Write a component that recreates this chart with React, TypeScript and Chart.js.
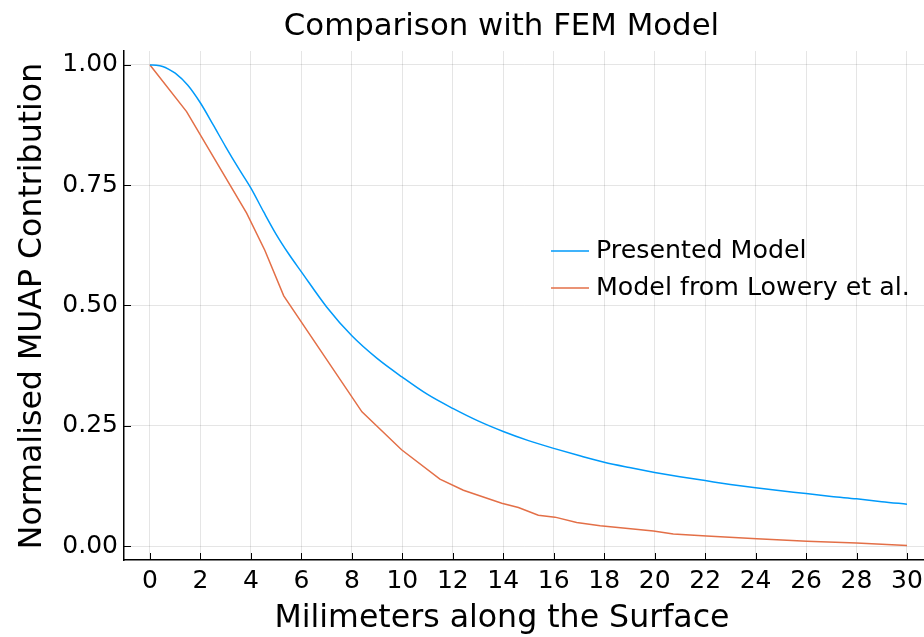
import React, { useEffect, useRef } from "react";
import { Chart, registerables } from "chart.js";

Chart.register(...registerables);

const presentedX = [0, 0.25, 0.5, 0.75, 1, 1.5, 2, 2.5, 3, 3.5, 4, 4.5, 5, 5.5, 6, 7, 8, 9, 10, 11, 12, 13, 14, 15, 16, 17, 18, 19, 20, 21, 22, 23, 24, 25, 26, 27, 28, 29, 30];
const presentedY = [1.0, 0.9995, 0.997, 0.991, 0.983, 0.958, 0.921, 0.876, 0.83, 0.786, 0.744, 0.695, 0.648, 0.607, 0.57, 0.497, 0.437, 0.39, 0.351, 0.315, 0.286, 0.26, 0.238, 0.219, 0.203, 0.188, 0.174, 0.163, 0.153, 0.144, 0.136, 0.128, 0.121, 0.115, 0.109, 0.103, 0.098, 0.092, 0.087];

const loweryX = [0, 1.45, 3.83, 4.55, 5.3, 8.4, 9.97, 11.49, 12.42, 13.94, 14.6, 15.39, 16.05, 16.91, 17.84, 19.95, 20.74, 22.06, 24.05, 26.03, 28.0, 30];
const loweryY = [1.0, 0.903, 0.692, 0.615, 0.52, 0.279, 0.2, 0.139, 0.116, 0.089, 0.08, 0.064, 0.06, 0.049, 0.042, 0.031, 0.025, 0.021, 0.015, 0.01, 0.006, 0.001];

const xTicks = [0, 2, 4, 6, 8, 10, 12, 14, 16, 18, 20, 22, 24, 26, 28, 30];
const yTicks = [0, 0.25, 0.5, 0.75, 1.0];

const seriesNames = ["Presented Model", "Model from Lowery et al."];
const seriesColors = ["#009AFA", "#E36F47"];
const titleText = "Comparison with FEM Model";
const xTitle = "Milimeters along the Surface";
const yTitle = "Normalised MUAP Contribution";

const FONT = "'DejaVu Sans'";

const decorPlugin = {
  id: "decor",
  afterDraw(chart: any) {
    const { ctx, chartArea, scales } = chart;
    const { left, bottom } = chartArea;
    const x = scales.x;
    const y = scales.y;
    ctx.save();
    // inner tick marks
    ctx.strokeStyle = "#000";
    ctx.lineWidth = 1;
    xTicks.forEach((v) => {
      const px = Math.round(x.getPixelForValue(v)) + 0.5;
      ctx.beginPath();
      ctx.moveTo(px, bottom);
      ctx.lineTo(px, bottom - 7);
      ctx.stroke();
    });
    yTicks.forEach((v) => {
      const py = Math.round(y.getPixelForValue(v)) + 0.5;
      ctx.beginPath();
      ctx.moveTo(left, py);
      ctx.lineTo(left + 7, py);
      ctx.stroke();
    });
    // titles
    ctx.fillStyle = "#000";
    ctx.textAlign = "center";
    ctx.textBaseline = "alphabetic";
    ctx.font = `30.8px ${FONT}`;
    ctx.fillText(titleText, 501.5, 35);
    ctx.font = `31.6px ${FONT}`;
    ctx.fillText(xTitle, 502, 627);
    ctx.save();
    ctx.translate(41, 306);
    ctx.rotate(-Math.PI / 2);
    ctx.fillText(yTitle, 0, 0);
    ctx.restore();
    // legend
    const legendYs = [251, 288];
    ctx.font = `25.3px ${FONT}`;
    ctx.textAlign = "left";
    ctx.textBaseline = "middle";
    seriesNames.forEach((name, i) => {
      ctx.strokeStyle = seriesColors[i];
      ctx.lineWidth = 1.5;
      ctx.beginPath();
      ctx.moveTo(551, legendYs[i]);
      ctx.lineTo(589, legendYs[i]);
      ctx.stroke();
      ctx.fillStyle = "#000";
      ctx.fillText(name, 596, legendYs[i]);
    });
    ctx.restore();
  },
};

export default function App() {
  const canvasRef = useRef<HTMLCanvasElement | null>(null);

  useEffect(() => {
    if (!canvasRef.current) return;
    const chart = new Chart(canvasRef.current, {
      type: "scatter",
      data: {
        datasets: [
          {
            label: seriesNames[0],
            data: presentedX.map((v, i) => ({ x: v, y: presentedY[i] })),
            showLine: true,
            borderColor: seriesColors[0],
            backgroundColor: seriesColors[0],
            borderWidth: 1.5,
            pointRadius: 0,
            cubicInterpolationMode: "monotone",
          },
          {
            label: seriesNames[1],
            data: loweryX.map((v, i) => ({ x: v, y: loweryY[i] })),
            showLine: true,
            borderColor: seriesColors[1],
            backgroundColor: seriesColors[1],
            borderWidth: 1.5,
            pointRadius: 0,
            tension: 0,
          },
        ],
      },
      options: {
        animation: false,
        responsive: false,
        layout: { padding: { top: 51, left: 0, right: 0, bottom: 0 } },
        plugins: {
          legend: { display: false },
          title: { display: false },
          tooltip: { enabled: false },
        },
        scales: {
          x: {
            type: "linear",
            min: -1.03,
            max: 30.674,
            afterBuildTicks: (s: any) => {
              s.ticks = xTicks.map((v) => ({ value: v }));
            },
            afterFit: (s: any) => {
              s.height = 77;
              s.paddingLeft = 0;
              s.paddingRight = 0;
            },
            grid: { color: "rgba(0,0,0,0.1)", lineWidth: 1, drawTicks: false },
            border: { display: true, color: "#000", width: 1.5 },
            ticks: {
              color: "#000",
              font: { family: "DejaVu Sans", size: 25 },
              padding: 6,
              maxRotation: 0,
              autoSkip: false,
              callback: (v: any) => String(v),
            },
          },
          y: {
            type: "linear",
            min: -0.0291,
            max: 1.0291,
            afterBuildTicks: (s: any) => {
              s.ticks = yTicks.map((v) => ({ value: v }));
            },
            afterFit: (s: any) => {
              s.width = 124;
              s.paddingTop = 0;
              s.paddingBottom = 0;
            },
            grid: { color: "rgba(0,0,0,0.1)", lineWidth: 1, drawTicks: false },
            border: { display: true, color: "#000", width: 1.5 },
            ticks: {
              color: "#000",
              font: { family: "DejaVu Sans", size: 25 },
              padding: 6,
              autoSkip: false,
              callback: (v: any) => Number(v).toFixed(2),
            },
          },
        },
      },
      plugins: [decorPlugin],
    });
    return () => chart.destroy();
  }, []);

  return (
    <div style={{ position: "fixed", left: 0, top: 0, width: 924, height: 637, background: "#fff" }}>
      <canvas ref={canvasRef} width={924} height={637} style={{ display: "block" }} />
    </div>
  );
}
